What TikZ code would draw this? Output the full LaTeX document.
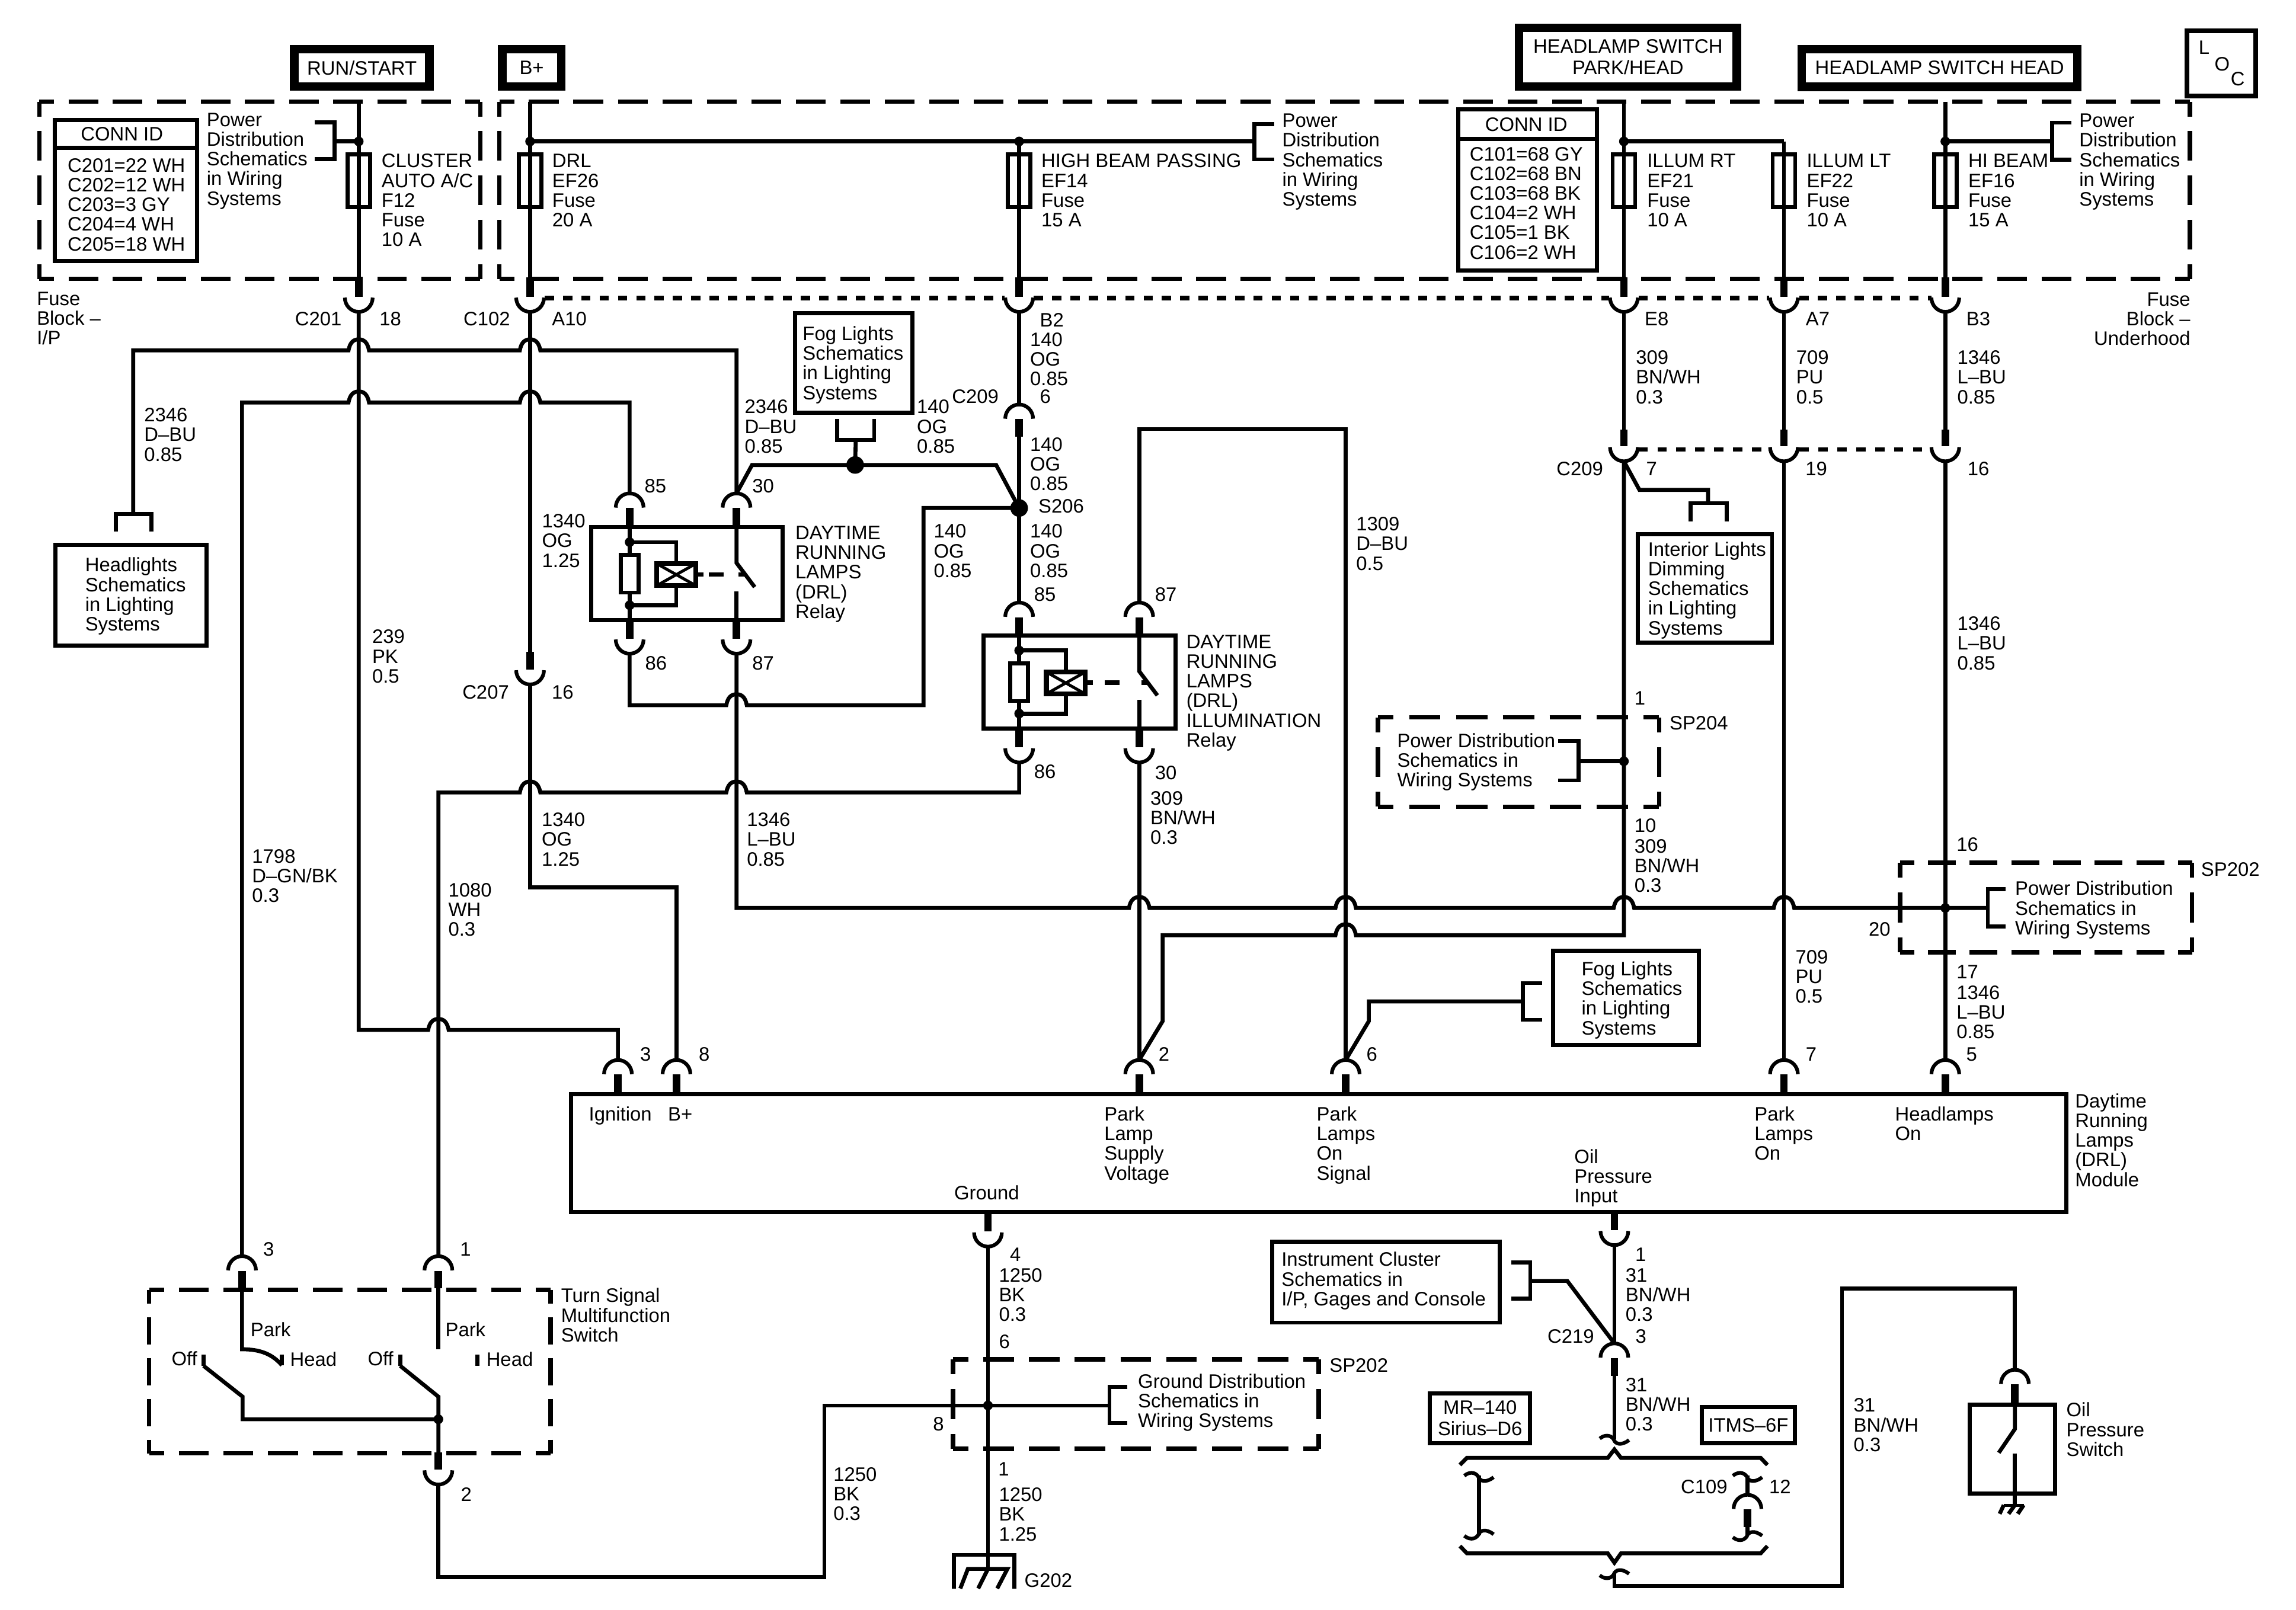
\documentclass[tikz,border=0pt]{standalone}
\usepackage{fontspec}
\setmainfont{Liberation Sans}
\newcounter{tn}
\tikzset{
 wire/.style={line width=2.7pt,line cap=butt,line join=miter},
 cn/.style={line width=2.5pt},
 lbl/.style={inner sep=0pt,anchor=north west,align=left,font=\fontsize{13.3}{13.45}\selectfont},
 rlbl/.style={lbl,anchor=north east,align=right},
 boxn/.style={draw,inner sep=0pt,align=center,font=\fontsize{13.3}{14.6}\selectfont},
}
\newcommand\T[4][]{\stepcounter{tn}\node[lbl,#1] (t\arabic{tn}) at (#2,{#3-5.3}) {\rule{0pt}{9.6pt}#4};}
\newcommand\R[3]{\stepcounter{tn}\node[rlbl] (t\arabic{tn}) at (#1,{#2-5.3}) {\rule{0pt}{9.6pt}#3};}
% name, x1,y1,x2,y2, line width, text
\newcommand\Bx[7]{\node[boxn,line width=#6pt,minimum width={((#4)-(#2))*1pt},minimum height={((#5)-(#3))*1pt}] (#1) at ({((#2)+(#4))/2},{((#3)+(#5))/2}) {#7};}
% dashed side with half dashes at both corners
\newcommand\dside[4]{%
 \pgfmathsetmacro\dL{veclen(#3-#1,#4-#2)}%
 \pgfmathsetmacro\dP{\dL/max(1,round(\dL/30.4))}%
 \pgfmathsetmacro\dOn{\dP*0.67}\pgfmathsetmacro\dOff{\dP*0.33}\pgfmathsetmacro\dPh{\dP*0.335}%
 \draw[line width=3pt,dash pattern=on \dOn pt off \dOff pt,dash phase=\dPh pt] (#1,#2) -- (#3,#4);}
\newcommand\Dbox[4]{\dside{#1}{#2}{#3}{#2}\dside{#1}{#4}{#3}{#4}\dside{#1}{#2}{#1}{#4}\dside{#3}{#2}{#3}{#4}}
% connector cap: name,x,ytop,stub end   (name) = top of the cap, (nameb) = stub end
\newcommand\Cap[4]{\coordinate (#1) at (#2,#3);\coordinate (#1b) at (#2,#4);
 \begin{scope}[shift={(#2,#3)}]
 \draw[cn] (-9.5,9.7) .. controls (-9.5,4.3) and (-5.2,0) .. (0,0) .. controls (5.2,0) and (9.5,4.3) .. (9.5,9.7);
 \end{scope}
 \fill (#2-2.6,#3+10) rectangle (#2+2.6,#4);}
% connector cup: name,x,stub start,y of cup ends  (name) = bottom of the cup, (namet) = stub start
\newcommand\Cup[4]{\coordinate (#1) at (#2,#4+9.5);\coordinate (#1t) at (#2,#3);
 \begin{scope}[shift={(#2,#4)}]
 \draw[cn] (-9.5,-0.2) .. controls (-9.5,5.2) and (-5.2,9.5) .. (0,9.5) .. controls (5.2,9.5) and (9.5,5.2) .. (9.5,-0.2);
 \end{scope}
 \fill (#2-2.6,#3) rectangle (#2+2.6,#4-0.8);}
\newcommand\Fuse[2]{\draw[wire] (#2-7.7,105.5) rectangle (#2+7.7,141.5);\coordinate (#1) at (#2,141.5);}
\def\hop#1#2{-- (#1-7,#2) .. controls (#1-6,#2-5.5) and (#1-3.5,#2-7.5) .. (#1,#2-7.5) .. controls (#1+3.5,#2-7.5) and (#1+6,#2-5.5) .. (#1+7,#2)}
\newcommand\Dot[3]{\fill (#1,#2) circle (#3pt);}
\newcommand\Wave[4]{\begin{scope}[shift={(#1,#2)},yscale=#4,xscale=#3]
 \draw[cn] (-10,2) .. controls (-7,-0.5) and (-3,-1) .. (-0.5,2.5) .. controls (0.5,6) and (5,7) .. (10,3);\end{scope}}
% relay: name, a=coil pin x, b=switch pin x, t=box top, l=box left
\newcommand\Relay[5]{%
 \pgfmathsetmacro\ra{#2}\pgfmathsetmacro\rb{#3}\pgfmathsetmacro\rt{#4}%
 \pgfmathsetmacro\rc{\ra+45.2}\pgfmathsetmacro\rm{(\rc+\rb)/2}%
 \Bx{#1}{#5}{\rt}{#5+131}{\rt+63.5}{2.8}{}
 \draw[wire] (\ra,\rt) -- (\ra,\rt+63.5);
 \draw[wire] (\ra,\rt+10.3) -- (\ra+31.8,\rt+10.3) -- (\ra+31.8,\rt+25);
 \draw[wire] (\ra+31.8,\rt+40) -- (\ra+31.8,\rt+53.4) -- (\ra,\rt+53.4);
 \Dot{\ra}{\rt+10.3}{3.3}\Dot{\ra}{\rt+53.4}{3.3}
 \draw[wire,fill=white] (\ra-6,\rt+19) rectangle (\ra+6,\rt+44.8);
 \draw[line width=3.4pt,fill=white] (\ra+18.5,\rt+25) rectangle (\ra+45.2,\rt+40);
 \draw[line width=2pt] (\ra+18.5,\rt+25) -- (\ra+45.2,\rt+40) (\ra+18.5,\rt+40) -- (\ra+45.2,\rt+25);
 \draw[line width=3pt] (\rc,\rt+32.3) -- (\rc+5.2,\rt+32.3) (\rm-5,\rt+32.3) -- (\rm+5,\rt+32.3) (\rb+1.5,\rt+32.3) -- (\rb+6.5,\rt+32.3);
 \draw[wire] (\rb,\rt) -- (\rb,\rt+24.5) -- (\rb+12.4,\rt+41);
 \draw[wire] (\rb,\rt+44) -- (\rb,\rt+63.5);}
\begin{document}
\begin{tikzpicture}[x=1pt,y=-1pt]
\useasboundingbox (0,0) rectangle (1568,1099.7);
% ---------- power boxes
\Bx{runstart}{201}{33.6}{293.3}{59}{5.8}{RUN/START}
\Bx{bplus}{343}{33.6}{383.2}{59}{5.8}{B+}
\Bx{parkhead}{1037.4}{19.1}{1186.1}{59}{5.8}{HEADLAMP SWITCH\\PARK/HEAD}
\Bx{headsw}{1230.5}{33.5}{1418.7}{59.3}{5.8}{HEADLAMP SWITCH HEAD}
\Bx{loc}{1493.5}{21.1}{1540.6}{65.4}{3.2}{}
\T{1501.3}{32.5}{L}\T{1512.2}{44}{O}\T{1523.2}{54}{C}
\Dbox{26.8}{69.5}{328}{190.5}
\Dbox{341}{69.5}{1495.5}{190.5}
% ---------- connection id boxes
\Bx{connA}{37.5}{82}{134.5}{178.4}{2.8}{}
\draw[wire] (connA.west |- 0,101) -- (connA.east |- 0,101);
\T{55}{91.8}{CONN ID}
\T{46}{113}{C201=22 WH\\C202=12 WH\\C203=3 GY\\C204=4 WH\\C205=18 WH}
\Bx{connB}{996}{74.7}{1090.6}{184.7}{2.8}{}
\draw[wire] (connB.west |- 0,95) -- (connB.east |- 0,95);
\T{1014}{85.3}{CONN ID}
\T{1003.5}{105.2}{C101=68 GY\\C102=68 BN\\C103=68 BK\\C104=2 WH\\C105=1 BK\\C106=2 WH}
% ---------- block texts
\T{141}{81.8}{Power\\Distribution\\Schematics\\in Wiring\\Systems}
\T{875.5}{82.4}{Power\\Distribution\\Schematics\\in Wiring\\Systems}
\T{1419.8}{82.4}{Power\\Distribution\\Schematics\\in Wiring\\Systems}
\T{260.4}{110}{CLUSTER\\AUTO A/C\\F12\\Fuse\\10 A}
\T{377}{110}{DRL\\EF26\\Fuse\\20 A}
\T{711}{110}{HIGH BEAM PASSING\\EF14\\Fuse\\15 A}
\T{1124.7}{110}{ILLUM RT\\EF21\\Fuse\\10 A}
\T{1233.7}{110}{ILLUM LT\\EF22\\Fuse\\10 A}
\T{1344}{110}{HI BEAM\\EF16\\Fuse\\15 A}
\T{25}{204}{Fuse\\Block –\\I/P}
\R{1496}{204.5}{Fuse\\Block –\\Underhood}
\T{201.3}{218}{C201}\T{259}{218}{18}\T{316.4}{218}{C102}\T{376.8}{218}{A10}
\T{710}{218.8}{B2}\T{703.3}{232}{140\\OG\\0.85}\T{710}{271}{6}\T{650}{271}{C209}
\T{703.3}{303.6}{140\\OG\\0.85}\T{709}{346}{S206}\T{703.3}{363}{140\\OG\\0.85}
\T{1123}{218}{E8}\T{1233}{218}{A7}\T{1342.7}{218}{B3}
\T{1117}{244.3}{309\\BN/WH\\0.3}\T{1226.5}{244.3}{709\\PU\\0.5}\T{1336.5}{244.3}{1346\\L–BU\\0.85}
\R{1095}{320.5}{C209}\T{1124}{320.5}{7}\T{1232.8}{320.5}{19}\T{1343.5}{320.5}{16}
\T{1336.5}{426}{1346\\L–BU\\0.85}
\T{98.3}{283.5}{2346\\D–BU\\0.85}\T{508.4}{278}{2346\\D–BU\\0.85}\T{626}{278}{140\\OG\\0.85}
\T{370}{356}{1340\\OG\\1.25}\T{637.5}{363}{140\\OG\\0.85}
\T{440}{332}{85}\T{513.6}{332}{30}\T{440.4}{453}{86}\T{513.6}{453}{87}
\T{543}{364}{DAYTIME\\RUNNING\\LAMPS\\(DRL)\\Relay}
\T{706}{406}{85}\T{788.6}{406}{87}\T{706}{527}{86}\T{788.6}{528}{30}
\T{810}{438.4}{DAYTIME\\RUNNING\\LAMPS\\(DRL)\\ILLUMINATION\\Relay}
\T{785.5}{545.3}{309\\BN/WH\\0.3}\T{926}{358}{1309\\D–BU\\0.5}
\T{254}{435}{239\\PK\\0.5}\T{172}{585}{1798\\D–GN/BK\\0.3}\T{306}{608}{1080\\WH\\0.3}
\R{347.8}{472.7}{C207}\T{376.7}{472.7}{16}
\T{369.8}{560}{1340\\OG\\1.25}\T{509.9}{560}{1346\\L–BU\\0.85}
% ---------- info boxes
\Bx{headl}{38}{372}{141}{441}{2.8}{}
\T{58}{386}{Headlights\\Schematics\\in Lighting\\Systems}
\Bx{fogA}{543}{214}{623}{282}{2.8}{}
\T{548}{228}{Fog Lights\\Schematics\\in Lighting\\Systems}
\Bx{interior}{1118.6}{365}{1210.2}{439}{2.8}{}
\T{1125.3}{375.2}{Interior Lights\\Dimming\\Schematics\\in Lighting\\Systems}
\Bx{fogB}{1060.6}{649.5}{1160.2}{713.6}{2.8}{}
\T{1079.9}{661.8}{Fog Lights\\Schematics\\in Lighting\\Systems}
\Dbox{941}{490}{1133}{551}
\T{954}{506}{Power Distribution\\Schematics in\\Wiring Systems}
\T{1140}{494}{SP204}\T{1116}{477}{1}\T{1116}{564}{10}\T{1116}{578}{309\\BN/WH\\0.3}
\Dbox{1297.6}{589.3}{1497}{650.5}
\T{1376}{607}{Power Distribution\\Schematics in\\Wiring Systems}
\T{1503}{594}{SP202}\T{1336}{577}{16}\T{1276}{634.8}{20}\T{1336}{664}{17}
\T{1336}{678}{1346\\L–BU\\0.85}\T{1226}{653.7}{709\\PU\\0.5}
\T{1342.6}{720}{5}\T{1233}{720}{7}\T{933}{720}{6}\T{791}{720}{2}\T{477}{720}{8}\T{437}{720}{3}
% ---------- module
\Bx{module}{390}{747.4}{1411}{828}{2.8}{}
\T{402}{761}{Ignition}\T{456}{761}{B+}
\T{754}{761}{Park\\Lamp\\Supply\\Voltage}\T{899}{761}{Park\\Lamps\\On\\Signal}
\T{1198}{761}{Park\\Lamps\\On}\T{1294}{761}{Headlamps\\On}
\T{1075}{790}{Oil\\Pressure\\Input}\T{651.5}{815}{Ground}
\T{1417}{752}{Daytime\\Running\\Lamps\\(DRL)\\Module}
% ---------- lower texts
\T{689.5}{857.2}{4}\T{682}{871}{1250\\BK\\0.3}\T{682}{916.5}{6}
\Dbox{650.8}{928.5}{900.5}{989.6}
\T{777}{943.5}{Ground Distribution\\Schematics in\\Wiring Systems}
\T{907.8}{932.6}{SP202}\T{637}{972.7}{8}\T{681.5}{1003.5}{1}
\T{682}{1021}{1250\\BK\\1.25}\T{569}{1007}{1250\\BK\\0.3}\T{699.5}{1079.7}{G202}
\Bx{cluster}{868.7}{848}{1024.3}{903.4}{2.8}{}
\T{875}{860.4}{Instrument Cluster\\Schematics in\\I/P, Gages and Console}
\T{1116.5}{857}{1}\T{1110}{871}{31\\BN/WH\\0.3}\T{1056.6}{913}{C219}\T{1116.7}{913}{3}
\T{1110}{946}{31\\BN/WH\\0.3}
\Bx{mr}{976.5}{951.6}{1045}{985.6}{2.8}{MR–140\\Sirius–D6}
\Bx{itms}{1162.3}{961.2}{1225.7}{985.6}{2.8}{ITMS–6F}
\T{1147.7}{1015.6}{C109}\T{1208}{1015.6}{12}
\T{1265.7}{960}{31\\BN/WH\\0.3}\T{1411}{963.2}{Oil\\Pressure\\Switch}
\Dbox{101.9}{881}{376}{992.7}
\T{383}{885}{Turn Signal\\Multifunction\\Switch}
\T{171}{908.4}{Park}\T{304}{908.4}{Park}\T{198}{928.4}{Head}\T{332}{928.4}{Head}\T{117}{928.4}{Off}\T{251}{928.4}{Off}
\T{179.6}{853.2}{3}\T{314}{853.2}{1}\T{314.5}{1021}{2}
% ---------- dashed connector rows
\foreach \a/\b in {372/686,706/1099,1119/1208,1229/1319}{\draw[line width=3pt,dash pattern=on 6.3pt off 6.2pt] (\a,203.6) -- (\b,203.6);}
\foreach \a/\b in {1119/1208,1229/1319}{\draw[line width=3pt,dash pattern=on 6.3pt off 6.6pt] (\a,307) -- (\b,307);}
% ---------- connectors on the fuse block row
\foreach \n/\x in {cA/245,cB/362,cC/696,cD/1109,cE/1218.3,cF/1328.5}{\Cup{\n}{\x}{189.5}{203.5}}
\Fuse{fA}{245}\Fuse{fB}{362}\Fuse{fC}{696}\Fuse{fD}{1109}\Fuse{fE}{1218.3}\Fuse{fF}{1328.5}
% supply wires
\coordinate (topA) at (245,69.5);\coordinate (topB) at (362,69.5);\coordinate (topD) at (1109,69.5);\coordinate (topF) at (1328.5,69.5);
\coordinate (jB) at (362,96.6);\coordinate (jC) at (696,96.6);\coordinate (jD) at (1109,96.6);\coordinate (jE) at (1218.3,96.6);\coordinate (jF) at (1328.5,96.6);\coordinate (jA) at (245,96.6);
\draw[wire] (topA) -- (cAt) (topB) -- (cBt) (topD) -- (cDt) (topF) -- (cFt) (jC) -- (cCt) (jE) -- (cEt);
\draw[wire] (jB) -- (856.7,96.6);
\draw[wire] (jD) -- (jE);
\draw[wire] (jA) -- (228.5,96.6);
\draw[wire] (jF) -- (1401.3,96.6);
\draw[wire] (215,83.6) -- (228.5,83.6) -- (228.5,108.7) -- (215,108.7);
\draw[wire] (870,84.7) -- (856.7,84.7) -- (856.7,108.9) -- (870,108.9);
\draw[wire] (1414.5,83.8) -- (1401.3,83.8) -- (1401.3,109) -- (1414.5,109);
\Dot{245}{96.6}{3.3}\Dot{362}{96.6}{3.3}\Dot{696}{96.6}{3.3}\Dot{1109}{96.6}{3.3}\Dot{1328.5}{96.6}{3.3}
% C209 row
\Cup{dD}{1109}{293.3}{305.6}\Cup{dE}{1218.3}{293.3}{305.6}\Cup{dF}{1328.5}{293.3}{305.6}
\draw[wire] (cD) -- (dDt) (cE) -- (dEt) (cF) -- (dFt);
\Cap{cC2}{696}{276.3}{298.4}
\draw[wire] (cC) -- (cC2);
% relays
\Relay{rlA}{430}{503}{360}{403.6}
\Relay{rlB}{696}{778}{434}{671.8}
\Cap{p85}{430}{337}{360}\Cap{p30}{503}{337}{360}\Cup{p86}{430}{423.5}{437}\Cup{p87}{503}{423.5}{437}
\Cap{q85}{696}{411.6}{434}\Cap{q87}{778}{411.6}{434}\Cup{q86}{696}{497.5}{511.3}\Cup{q30}{778}{497.5}{511.3}
% S206
\coordinate (s206) at (696,347);\coordinate (fj) at (584,317.6);
\draw[wire] (cC2b) -- (q85);
\draw[wire] (p30) -- (513.6,317.6) -- (680.3,317.6) -- (s206);
\draw[wire] (p86) -- (430,481.7) \hop{503}{481.7} -- (630.7,481.7) -- (630.7,347) -- (s206);
\Dot{696}{347}{6}\Dot{584}{317.6}{6}
% fog lights A tap
\draw[wire] (571.8,286) -- (571.8,300.5) -- (597,300.5) -- (597,286);
\draw[wire] (584.4,300.5) -- (fj);
% module pins
\Cap{m3}{422}{724}{747.4}\Cap{m8}{462}{724}{747.4}\Cap{m2}{778}{724}{747.4}\Cap{m6}{919}{724}{747.4}\Cap{m7}{1218.3}{724}{747.4}\Cap{m5}{1328.5}{724}{747.4}
% long wires
\draw[wire] (cA) -- (245,703.5) \hop{299.4}{703.5} -- (422,703.5) -- (m3);
\Cup{c207}{362}{445.2}{458}
\draw[wire] (cB) -- (c207t);
\draw[wire] (c207) -- (362,606) -- (462,606) -- (m8);
\coordinate (hl) at (91,351);
\draw[wire] (hl) -- (91,239.3) \hop{245}{239.3} \hop{362}{239.3} -- (503,239.3) -- (p30);
\draw[wire] (79,363) -- (79,351) -- (103.5,351) -- (103.5,363);
\Cap{sw3}{165.3}{858}{880}\Cap{sw1}{299.4}{858}{880}
\draw[wire] (sw3) -- (165.3,274.9) \hop{245}{274.9} \hop{362}{274.9} -- (430,274.9) -- (p85);
\draw[wire] (sw1) -- (299.4,541.3) \hop{362}{541.3} \hop{503}{541.3} -- (696,541.3) -- (q86);
\coordinate (spB) at (1328.5,620.2);
\draw[wire] (p87) -- (503,620.2) \hop{778}{620.2} \hop{919}{620.2} \hop{1109}{620.2} \hop{1218.3}{620.2} -- (spB) -- (1357.5,620.2);
\draw[wire] (1369.5,607.4) -- (1357.5,607.4) -- (1357.5,632.8) -- (1369.5,632.8);
\Dot{1328.5}{620.2}{3.3}
\draw[wire] (dF) -- (m5);
\draw[wire] (dE) -- (m7);
\draw[wire] (q87) -- (778,293) -- (919,293) -- (m6);
\draw[wire] (q30) -- (m2);
\draw[wire] (m2) -- (794,697.5) -- (794,638.8) \hop{919}{638.8} -- (1109,638.8) -- (dD);
\draw[wire] (dD) -- (1119.6,334.6) -- (1166.5,334.6) -- (1166.5,343.6);
\draw[wire] (1154.5,356) -- (1154.5,343.6) -- (1179.3,343.6) -- (1179.3,356);
\draw[wire] (m6) -- (934.8,697.5) -- (934.8,684) -- (1040,684);
\draw[wire] (1053,671.5) -- (1040,671.5) -- (1040,696.6) -- (1053,696.6);
\draw[wire] (1109,520) -- (1078,520);
\draw[wire] (1064,506) -- (1078,506) -- (1078,533) -- (1064,533);
\Dot{1109}{520}{3.3}
% turn signal switch
\coordinate (swj) at (299.4,969.4);
\draw[wire] (sw3b) -- (165.3,921.6) .. controls (178,921.6) and (186,925) .. (192.5,932.5);
\draw[wire] (sw1b) -- (299.4,921.6);
\draw[wire] (192.5,925.4) -- (192.5,932.5) (326,925.4) -- (326,932.9) (139,925.4) -- (139,932.9) (273.3,925.4) -- (273.3,932.9);
\draw[wire] (139,932.9) -- (165.7,954) -- (165.7,969.4) -- (swj);
\draw[wire] (273.3,932.9) -- (299.4,954) -- (299.4,992);
\Dot{299.4}{969.4}{3.3}
\Cup{sw2}{299.4}{991.9}{1004.5}
% ground
\Cup{gnd}{674.7}{828}{842}
\coordinate (gj) at (674.7,960);\coordinate (gtop) at (674.7,1062);
\draw[wire] (gnd) -- (gtop) -- (674.7,1071.6);
\draw[wire] (sw2) -- (299.4,1077.3) -- (563,1077.3) -- (563,960) -- (gj) -- (757.7,960);
\draw[wire] (770,947.3) -- (757.7,947.3) -- (757.7,972.1) -- (770,972.1);
\Dot{674.7}{960}{3.3}
\draw[wire] (651.4,1085) -- (651.4,1062) -- (692.6,1062) -- (692.6,1085);
\draw[wire] (655.8,1085) -- (661,1071.6) -- (688,1071.6) -- (681,1085) (668,1085) -- (674.7,1071.6);
% oil pressure input
\Cup{oil}{1102.5}{828}{841}
\Cap{c219}{1102.5}{917.6}{940}
\draw[wire] (oil) -- (c219);
\draw[wire] (1032,862.4) -- (1045,862.4) -- (1045,887) -- (1032,887);
\draw[wire] (1045,874.9) -- (1070.3,874.9) -- (c219);
\coordinate (wvA) at (1102.5,983);
\draw[wire] (c219b) -- (wvA);
\Wave{1102.5}{980.6}{1}{1}
\draw[wire] (997,1000.6) -- (1001.8,995.8) -- (1098,995.8) -- (1102.5,990) -- (1107,995.8) -- (1202.4,995.8) -- (1207,1000.6);
\draw[wire] (997,1056) -- (1001.8,1061) -- (1098,1061) -- (1102.5,1067.4) -- (1107,1061) -- (1202.4,1061) -- (1207,1056);
\Wave{1010}{1006}{1}{1}\Wave{1010}{1051}{1}{-1}
\draw[wire] (1010,1008) -- (1010,1048.5);
\Wave{1193.4}{1006}{1}{1}
\Cap{c109}{1193.4}{1021}{1043}
\draw[wire] (1193.4,1008) -- (c109);
\draw[wire] (c109b) -- (1193.4,1048.5);
\Wave{1193.4}{1052}{1}{-1}
\Wave{1102.5}{1078}{1}{-1}
% oil pressure switch
\Cap{osw}{1376}{935.6}{959.5}
\draw[wire] (1102.5,1075) -- (1102.5,1083.3) -- (1258,1083.3) -- (1258,880) -- (1376,880) -- (osw);
\Bx{oilbox}{1345}{959.6}{1403.5}{1020}{2.8}{}
\draw[wire] (osw) ++(0,24) -- (1376,976.1) -- (1365,992.3);
\draw[wire] (1376,992.7) -- (1376,1028);
\draw[line width=2pt] (1368.4,1028.2) -- (1382,1028.2);
\draw[wire] (1368.4,1028) -- (1365.6,1034) (1376,1028) -- (1371.7,1034) (1382,1028) -- (1378,1034);
\end{tikzpicture}
\end{document}
